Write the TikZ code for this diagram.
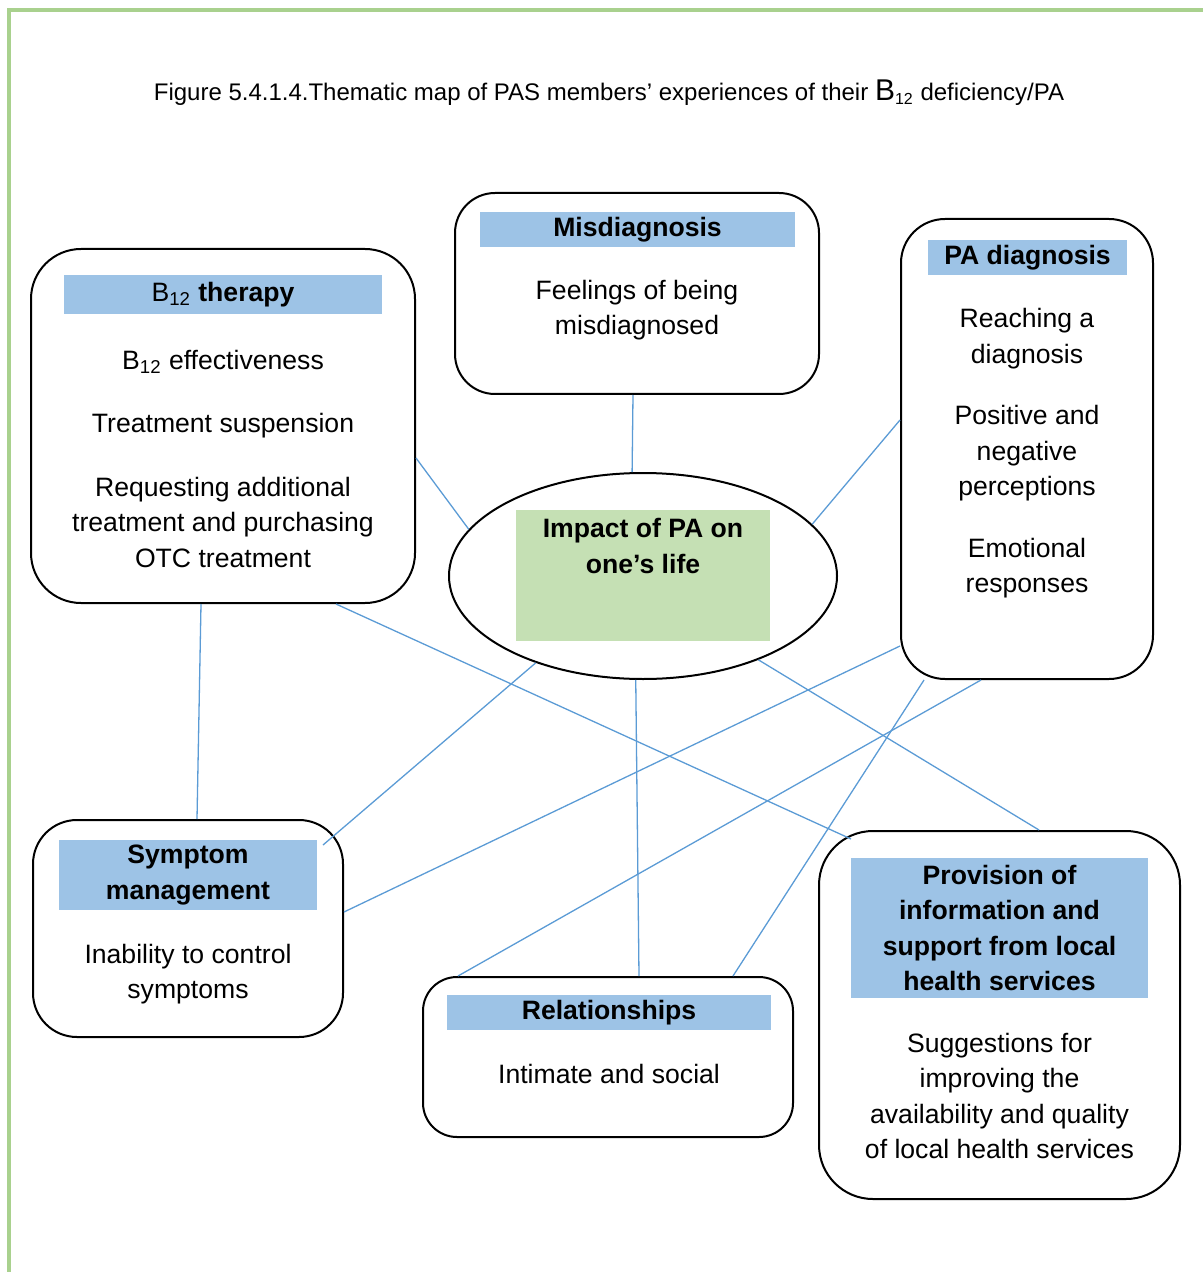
\documentclass[tikz,border=0pt]{standalone}
\usepackage{fontspec}
\setmainfont{Liberation Sans}
\usetikzlibrary{shapes.geometric}
\definecolor{framegreen}{HTML}{A9D18E}
\definecolor{linkblue}{HTML}{5B9BD5}
\definecolor{headblue}{HTML}{9DC3E6}
\definecolor{coregreen}{HTML}{C5E0B4}
\newcommand{\bodysize}{\fontsize{13.3}{17.75}\selectfont}
\newcommand{\Btwelve}{B\textsubscript{12}}

\tikzset{
  theme/.style={draw, line width=1pt, rounded corners=#1, inner sep=0pt},
  theme/.default=22pt,
  headbar/.style={fill=headblue, inner sep=0pt, align=center, font=\bodysize\bfseries},
  item/.style={align=center, inner sep=0pt, font=\bodysize},
  link/.style={linkblue, line width=0.65pt}
}

\begin{document}
\begin{tikzpicture}[x=0.5pt, y=-0.5pt]
\useasboundingbox (0,0) rectangle (1203,1272);
\draw [framegreen, line width=2pt] (9,1272) -- (9,10) -- (1203,10);

\node [font=\fontsize{12}{14}\selectfont] (title) at (609,93) {Figure 5.4.1.4.Thematic map of PAS members’ experiences of their {\fontsize{15}{15}\selectfont B}\textsubscript{12} deficiency/PA};

% theme boxes
\node [theme=25pt, minimum width=192pt, minimum height=177pt] (b12) at (223,426) {};
\node [theme=20pt, minimum width=182pt, minimum height=100.5pt] (mis) at (637,293.5) {};
\node [theme, minimum width=126pt, minimum height=230pt] (pad) at (1027,449) {};
\node [theme, minimum width=155pt, minimum height=108.5pt] (sym) at (188,928.5) {};
\node [theme=17pt, minimum width=185pt, minimum height=80pt] (rel) at (608,1057) {};
\node [theme=27pt, minimum width=180.5pt, minimum height=184pt] (prov) at (999.5,1015) {};

% central theme
\node [draw, ellipse, line width=1pt, inner sep=0pt, minimum width=194pt, minimum height=103pt] (ell) at (643,576) {};
\node [fill=coregreen, inner sep=0pt, minimum width=127pt, minimum height=65.5pt] (core) at (643,575.5) {};
\node [item, font=\bodysize\bfseries] (coretext) at (643,546) {Impact of PA on\\one’s life};

% headers
\node [headbar, minimum width=159pt, minimum height=19.5pt] (h12) at (223,294.5) {\mdseries\Btwelve\ \bfseries therapy};
\node [headbar, minimum width=157.5pt, minimum height=17.5pt] (hmis) at (637.5,229.5) {Misdiagnosis};
\node [headbar, minimum width=99.5pt, minimum height=17.5pt] (hpad) at (1027.5,257.5) {PA diagnosis};
\node [headbar, minimum width=129pt, minimum height=35pt] (hsym) at (188,875) {Symptom\\management};
\node [headbar, minimum width=162pt, minimum height=17.5pt] (hrel) at (609,1012.5) {Relationships};
\node [headbar, minimum width=148.5pt, minimum height=70pt] (hprov) at (999.5,928) {Provision of\\information and\\support from local\\health services};

% subthemes
\node [item] (eff) at (223,362) {\Btwelve\ effectiveness};
\node [item] (susp) at (223,425.5) {Treatment suspension};
\node [item] (otc) at (223,522) {Requesting additional\\treatment and purchasing\\OTC treatment};
\node [item] (feel) at (637,310) {Feelings of being\\misdiagnosed};
\node [item] (reach) at (1027,338.5) {Reaching a\\diagnosis};
\node [item] (perc) at (1027,453.5) {Positive and\\negative\\perceptions};
\node [item] (emo) at (1027,568) {Emotional\\responses};
\node [item] (ctrl) at (188,974) {Inability to control\\symptoms};
\node [item] (intim) at (609,1073.5) {Intimate and social};
\node [item] (sugg) at (999.5,1096) {Suggestions for\\improving the\\availability and quality\\of local health services};

% links
\draw [link] ([yshift=-16pt]b12.east) -- (ell.165);
\draw [link] ([xshift=-2pt]mis.south) -- (ell.96);
\draw [link] ([yshift=14.5pt]pad.west) -- (ell.17);
\draw [link] ([xshift=-11pt]b12.south) -- ([xshift=4.5pt]sym.north);
\draw [link] ([xshift=56.5pt]b12.south) -- ([xshift=16.5pt,yshift=-4.5pt]prov.north west);
\draw [link] (ell.219) -- ([xshift=-10.5pt,yshift=-13pt]sym.north east);
\draw [link] (ell.266) -- ([xshift=15.5pt]rel.north);
\draw [link] (ell.324) -- ([xshift=19.75pt]prov.north);
\draw [link] ([yshift=-98.5pt]pad.west) -- ([yshift=8.25pt]sym.east);
\draw [link] ([xshift=-23pt]pad.south) -- ([xshift=18pt]rel.north west);
\draw [link] ([xshift=12pt]pad.south west) -- ([xshift=-30.5pt]rel.north east);
\end{tikzpicture}
\end{document}
